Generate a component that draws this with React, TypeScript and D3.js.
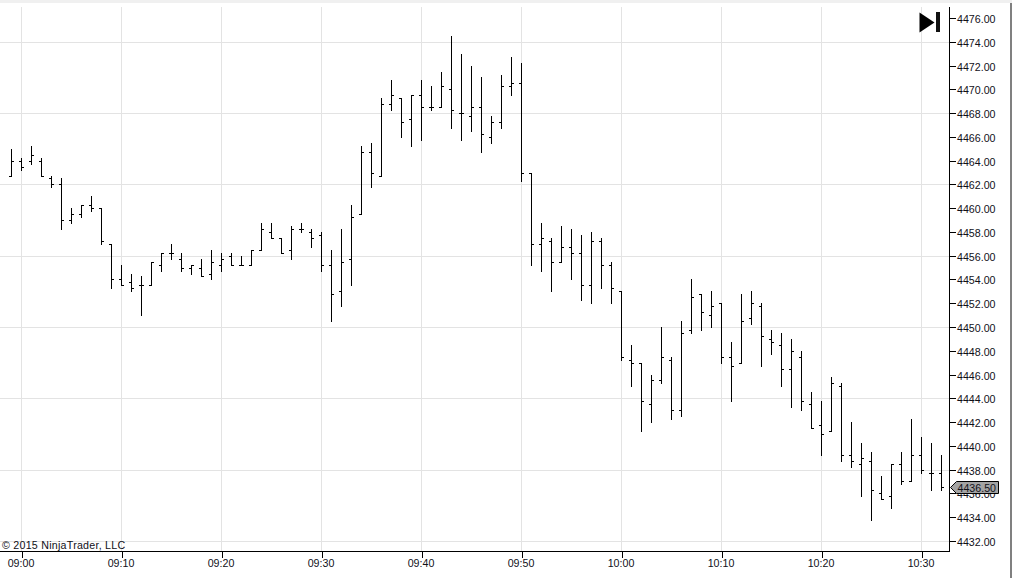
import * as d3 from "d3";
import { useEffect, useRef } from "react";

// One-minute OHLC bars, 08:59 to 10:32
const opens = [
  4462.75, 4464, 4464, 4464, 4462.5, 4462, 4459, 4459.5, 4460.25, 4460, 4457, 4454, 4453.75, 4453.5, 4453.5, 4455.25,
  4456.25, 4455.75, 4455, 4455, 4454.5, 4455.25, 4456, 4455.25, 4455.25, 4456.5, 4458, 4457.5, 4456.5, 4458.25, 4458, 4457.75,
  4455.25, 4453, 4455.75, 4459.5, 4464.75, 4462.75, 4468.75, 4469.25, 4467.5, 4469.5, 4468.5, 4468.5, 4470, 4468, 4467.75, 4468.5,
  4466, 4467.25, 4470.25, 4470.5, 4463, 4457, 4457.25, 4455.5, 4456.75, 4456.25, 4453.5, 4457.25, 4455.25, 4453, 4447.25, 4447,
  4443.5, 4445.5, 4447.25, 4443, 4449.75, 4452.75, 4451, 4452, 4447.5, 4447, 4450.75, 4451.75, 4449, 4448.5, 4446.5, 4447.5,
  4443.5, 4441.75, 4441.25, 4445, 4439.25, 4438.5, 4438.75, 4436, 4435.75, 4438.5, 4437, 4439.25, 4437.75, 4437.75,
];
const highs = [
  4465, 4464.25, 4465.25, 4464.25, 4462.75, 4462.5, 4460, 4460.25, 4461, 4460, 4457, 4455.25, 4454.5, 4454.25, 4455.5, 4456.25,
  4457, 4456.25, 4455.25, 4455.75, 4456.5, 4456.25, 4456.25, 4456, 4456.5, 4458.75, 4458.75, 4457.5, 4458.5, 4458.75, 4458.25, 4458,
  4456.5, 4458.25, 4460.25, 4465.25, 4465.5, 4469.25, 4470.75, 4469.25, 4469.5, 4470.75, 4470.25, 4471.5, 4474.5, 4473, 4472, 4471,
  4467.75, 4471.25, 4472.75, 4472.25, 4463, 4458.75, 4457.5, 4458.5, 4458.25, 4457.75, 4458, 4457.5, 4455.5, 4453, 4448.5, 4447,
  4446, 4450, 4447.5, 4450.5, 4454, 4452.75, 4453, 4452, 4448.75, 4452.75, 4453, 4452, 4449.75, 4449.5, 4449, 4448,
  4444.5, 4443.75, 4445.75, 4445.25, 4442, 4440.25, 4439.5, 4437.5, 4438.5, 4439.5, 4442.25, 4440.75, 4440.25, 4439.25,
];
const lows = [
  4462.75, 4463.25, 4463.75, 4462.75, 4461.75, 4458.25, 4458.75, 4459.25, 4459.75, 4457, 4453.25, 4453.5, 4453, 4451, 4453.5, 4454.75,
  4455.75, 4454.75, 4454.5, 4454.25, 4454, 4454.75, 4455.25, 4455.25, 4455.25, 4456.5, 4457.5, 4456.25, 4455.75, 4458, 4456.75, 4454.75,
  4450.5, 4451.75, 4453.5, 4459.5, 4461.75, 4462.75, 4468.25, 4466, 4465.25, 4465.75, 4468.25, 4468.5, 4466.75, 4465.75, 4466.5, 4464.75,
  4465.5, 4466.75, 4469.5, 4462.25, 4455.25, 4454.75, 4453, 4455.5, 4454, 4452.25, 4452, 4453.25, 4452, 4447.25, 4445, 4441.25,
  4442, 4445.25, 4442.25, 4442.5, 4449.5, 4449.75, 4450, 4447, 4443.75, 4447, 4450.25, 4446.75, 4447.75, 4445, 4443.25, 4443,
  4441.5, 4439.25, 4441.25, 4438.75, 4438.25, 4435.75, 4433.75, 4435.5, 4434.75, 4436.75, 4437, 4437.75, 4436.25, 4436.25,
];
const closes = [
  4464, 4463.5, 4464.5, 4462.75, 4462, 4459, 4459.5, 4460.25, 4460, 4457.25, 4454, 4453.5, 4453.25, 4453.5, 4455.5, 4456.25,
  4456.25, 4455, 4455.25, 4454.25, 4455.5, 4455.75, 4455.25, 4455.25, 4456.5, 4458.25, 4457.5, 4456.25, 4458.25, 4458.25, 4457.5, 4455.25,
  4452.75, 4455.5, 4459.25, 4464.75, 4463, 4468.75, 4469.5, 4467.25, 4469.5, 4468.5, 4468.5, 4470.25, 4468.25, 4468, 4468.5, 4466.25,
  4467.25, 4470.25, 4470.5, 4463, 4457, 4457.5, 4455.5, 4456.75, 4456.25, 4453.5, 4457.25, 4455.25, 4453.25, 4447.5, 4447, 4443.75,
  4445.5, 4447.5, 4443, 4449.5, 4452.5, 4451.25, 4451.75, 4447.5, 4446.75, 4450.5, 4452, 4449.25, 4448.75, 4446.5, 4448, 4443.75,
  4441.5, 4441, 4445.25, 4439.25, 4438.75, 4439, 4436.25, 4435.5, 4438.5, 4437, 4439.25, 4438, 4437.75, 4436.5,
];

const priceTicks = d3.range(4432, 4477, 2);
const priceGrid = [4432, 4438, 4444, 4450, 4456, 4462, 4468, 4474];
const timeTicks = [
  "09:00", "09:10", "09:20", "09:30", "09:40", "09:50", "10:00", "10:10", "10:20", "10:30",
];
const lastPrice = 4436.5;
const copyright = "\u00a9 2015 NinjaTrader, LLC";

const fontFamily = "'Liberation Sans', Arial, sans-serif";
const width = 1012;
const height = 578;

const toDate = (t: string) => {
  const [h, m] = t.split(":").map(Number);
  return new Date(2015, 0, 5, h, m);
};

export default function App() {
  const svgRef = useRef<SVGSVGElement | null>(null);

  useEffect(() => {
    const svg = d3.select(svgRef.current);
    svg.selectAll("*").remove();

    const axisX = 949.5;
    const axisY = 551.5;
    const axisTop = 7;

    // Scales
    const x = d3
      .scaleTime()
      .domain([toDate("09:00"), toDate("10:30")])
      .range([21.5, 921.5]);
    const y = d3.scaleLinear().domain([4474, 4432]).range([42.35, 541.35]);
    const py = (p: number) => Math.floor(y(p)) + 0.5;

    const bars = opens.map((o, i) => ({
      time: d3.timeMinute.offset(toDate("09:00"), i - 1),
      open: o,
      high: highs[i],
      low: lows[i],
      close: closes[i],
    }));

    // Window edges
    svg.append("rect").attr("width", width).attr("height", height).attr("fill", "#fff");
    svg.append("rect").attr("width", width).attr("height", 3).attr("fill", "#f0f0f0");
    svg.append("rect").attr("x", 1010).attr("y", 3).attr("width", 2).attr("height", height - 3).attr("fill", "#808080");

    // Grid
    const grid = svg.append("g").attr("stroke", "#e3e3e3").attr("shape-rendering", "crispEdges");
    grid
      .selectAll("line.h")
      .data(priceGrid)
      .join("line")
      .attr("class", "h")
      .attr("x1", 0)
      .attr("x2", axisX)
      .attr("y1", (d) => py(d))
      .attr("y2", (d) => py(d));
    grid
      .selectAll("line.v")
      .data(timeTicks)
      .join("line")
      .attr("class", "v")
      .attr("x1", (d) => x(toDate(d)))
      .attr("x2", (d) => x(toDate(d)))
      .attr("y1", axisTop)
      .attr("y2", axisY);

    // Axes
    const rightAxis = d3
      .axisRight(y)
      .tickValues(priceTicks)
      .tickSize(6)
      .tickSizeOuter(0)
      .tickPadding(1.5)
      .tickFormat((d) => d3.format(".2f")(d as number));
    const gRight = svg.append("g").attr("transform", `translate(${axisX},0)`).call(rightAxis);
    gRight.select(".domain").remove();
    gRight.selectAll<SVGGElement, number>(".tick").attr("transform", (d) => `translate(0,${py(d)})`);
    gRight.selectAll(".tick text").attr("dy", "0.42em");

    const bottomAxis = d3
      .axisBottom(x)
      .tickValues(timeTicks.map(toDate))
      .tickSize(6)
      .tickSizeOuter(0)
      .tickPadding(2)
      .tickFormat((d) => d3.timeFormat("%H:%M")(d as Date));
    const gBottom = svg.append("g").attr("transform", `translate(0,${axisY})`).call(bottomAxis);
    gBottom.select(".domain").remove();
    gBottom.selectAll(".tick text").attr("dx", -1);

    svg
      .selectAll("g.tick line")
      .attr("stroke", "#000")
      .attr("shape-rendering", "crispEdges");
    svg
      .selectAll("g.tick text")
      .attr("fill", "#101018")
      .attr("font-family", fontFamily)
      .attr("font-size", 10.67);

    svg
      .append("path")
      .attr("d", `M0,${axisY}H${axisX}V${axisTop}`)
      .attr("fill", "none")
      .attr("stroke", "#000")
      .attr("shape-rendering", "crispEdges");

    // OHLC bars
    const g = svg.append("g").attr("stroke", "#000").attr("shape-rendering", "crispEdges");
    const bar = g.selectAll("g").data(bars).join("g");
    bar
      .append("line")
      .attr("x1", (d) => x(d.time))
      .attr("x2", (d) => x(d.time))
      .attr("y1", (d) => py(d.high) - 0.5)
      .attr("y2", (d) => py(d.low) + 0.5);
    bar
      .append("line")
      .attr("x1", (d) => x(d.time) - 2.5)
      .attr("x2", (d) => x(d.time) - 0.5)
      .attr("y1", (d) => py(d.open))
      .attr("y2", (d) => py(d.open));
    bar
      .append("line")
      .attr("x1", (d) => x(d.time) + 0.5)
      .attr("x2", (d) => x(d.time) + 2.5)
      .attr("y1", (d) => py(d.close))
      .attr("y2", (d) => py(d.close));

    // Last price marker
    const ly = py(lastPrice);
    svg
      .append("path")
      .attr("d", `M950.5,${ly}L956.5,${ly - 6}H998.5V${ly + 6}H956.5Z`)
      .attr("fill", "#a3a3a3")
      .attr("stroke", "#000");
    svg
      .append("text")
      .attr("x", 957.5)
      .attr("y", ly + 4)
      .attr("fill", "#101018")
      .attr("font-family", fontFamily)
      .attr("font-size", 10.67)
      .text(d3.format(".2f")(lastPrice));

    // Copyright
    svg
      .append("text")
      .attr("x", 2)
      .attr("y", 549)
      .attr("fill", "#101018")
      .attr("font-family", fontFamily)
      .attr("font-size", 10.67)
      .attr("letter-spacing", 0.25)
      .text(copyright);

    // Jump-to-end button
    svg.append("path").attr("d", "M919.5,12.5L934.5,22.5L919.5,32.5Z").attr("fill", "#000");
    svg.append("rect").attr("x", 936).attr("y", 12).attr("width", 4).attr("height", 20).attr("fill", "#111");
  }, []);

  return (
    <svg
      ref={svgRef}
      width={width}
      height={height}
      style={{ position: "absolute", left: 0, top: 0, display: "block" }}
    ></svg>
  );
}
